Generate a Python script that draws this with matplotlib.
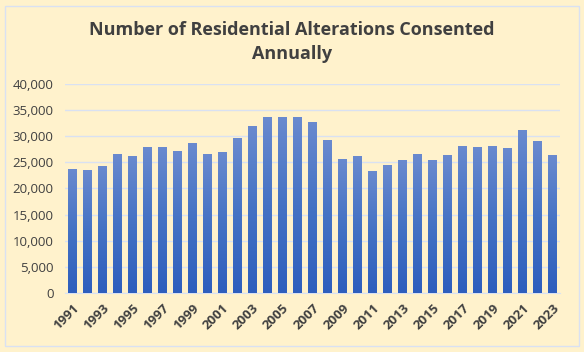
import numpy as np
import matplotlib
matplotlib.use("Agg")
import matplotlib.pyplot as plt
from matplotlib.colors import LinearSegmentedColormap
from matplotlib.ticker import FuncFormatter, MultipleLocator

# ── Data ─────────────────────────────────────────────────────────────────────

years = list(range(1991, 2024))
consents = [
    23800, 23600, 24400, 26700, 26300, 28000, 28000, 27200, 28800, 26700,
    27000, 29700, 32000, 33700, 33700, 33700, 32800, 29300, 25700, 26300,
    23400, 24500, 25500, 26600, 25500, 26500, 28200, 28000, 28200, 27800,
    31200, 29100, 26500,
]
tick_years = years[::2]

title = "Number of Residential Alterations Consented\nAnnually"

# ── Style ────────────────────────────────────────────────────────────────────

BG = "#FFF2CC"
TEXT = "#404040"
GRID = "#D9E1F2"
bar_cmap = LinearSegmentedColormap.from_list("bar", ["#2E5EBD", "#4472C4", "#6A8ACF"])

plt.rcParams["font.family"] = ["Open Sans", "DejaVu Sans"]

fig = plt.figure(figsize=(5.84, 3.52), dpi=100, facecolor=BG)
ax = fig.add_axes([0.111, 0.168, 0.848, 0.593])
ax.set_facecolor(BG)

# figure border
fig.patches.append(plt.Rectangle((5 / 584, 6 / 352), 574 / 584, 340 / 352,
                                 transform=fig.transFigure, fill=False,
                                 edgecolor=GRID, linewidth=1))

x = np.arange(len(years))
bars = ax.bar(x, consents, width=0.56, color="none", edgecolor="none", zorder=3)

# per-bar vertical gradient, clipped to each bar
gradient = np.linspace(0, 1, 256).reshape(-1, 1)
for b in bars:
    x0, w, h = b.get_x(), b.get_width(), b.get_height()
    im = ax.imshow(gradient, cmap=bar_cmap, origin="lower", aspect="auto",
                   extent=(x0, x0 + w, 0, h), zorder=3)
    im.set_clip_path(b)

ax.set_xlim(-0.5, len(years) - 0.5)
ax.set_ylim(0, 40000)
ax.yaxis.set_major_locator(MultipleLocator(5000))
ax.yaxis.set_major_formatter(FuncFormatter(lambda v, _: f"{int(v):,}"))
ax.grid(axis="y", color=GRID, linewidth=1, zorder=0)
ax.set_axisbelow(True)

ax.set_xticks([years.index(y) for y in tick_years])
ax.set_xticklabels([str(y) for y in tick_years], rotation=45, ha="right",
                   rotation_mode="anchor", fontweight="bold")
ax.tick_params(axis="both", length=0, colors=TEXT, labelsize=9.5)
ax.tick_params(axis="x", pad=6)
ax.tick_params(axis="y", pad=8)

for side in ("top", "right", "left"):
    ax.spines[side].set_visible(False)
ax.spines["bottom"].set_color(GRID)

fig.text(0.5, 0.88, title, ha="center", va="center", fontsize=13,
         fontweight="bold", color=TEXT, linespacing=1.45)

fig.savefig("out.png", dpi=100, facecolor=BG)
